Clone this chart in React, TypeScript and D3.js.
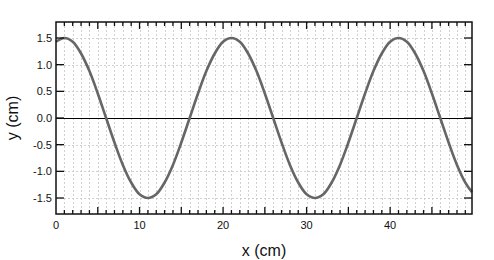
import React from "react";
import * as d3 from "d3";

const xValues = [
  0, 1, 2, 3, 4, 5, 6, 7, 8, 9, 10, 11, 12, 13, 14, 15, 16, 17, 18, 19, 20,
  21, 22, 23, 24, 25, 26, 27, 28, 29, 30, 31, 32, 33, 34, 35, 36, 37, 38, 39, 40,
  41, 42, 43, 44, 45, 46, 47, 48, 49, 49.8,
];
const yValues = [
  1.43, 1.5, 1.43, 1.21, 0.88, 0.46, 0, -0.46, -0.88, -1.21, -1.43,
  -1.5, -1.43, -1.21, -0.88, -0.46, 0, 0.46, 0.88, 1.21, 1.43,
  1.5, 1.43, 1.21, 0.88, 0.46, 0, -0.46, -0.88, -1.21, -1.43,
  -1.5, -1.43, -1.21, -0.88, -0.46, 0, 0.46, 0.88, 1.21, 1.43,
  1.5, 1.43, 1.21, 0.88, 0.46, 0, -0.46, -0.88, -1.21, -1.39,
];
const xTickLabels = [0, 10, 20, 30, 40];
const yTickLabels = [1.5, 1.0, 0.5, 0.0, -0.5, -1.0, -1.5];

const W = 494;
const H = 260;
const L = 56, R = 472, T = 22, B = 214;

export default function App() {
  const x = d3.scaleLinear().domain([0, 49.8]).range([L, R]);
  const y = d3.scaleLinear().domain([-1.8, 1.8]).range([B, T]);
  const pts = xValues.map((v, i) => [v, yValues[i]] as [number, number]);
  const line = d3
    .line<[number, number]>()
    .x((d) => x(d[0]))
    .y((d) => y(d[1]))
    .curve(d3.curveCatmullRom.alpha(0.5));
  const minor = d3.range(1, 50);
  const font = "Liberation Sans, Arial, Helvetica, sans-serif";
  return (
    <svg
      width={W}
      height={H}
      style={{ position: "absolute", left: 0, top: 0 }}
      fontFamily={font}
    >
      <rect width={W} height={H} fill="#fff" />
      <g>
        {minor.map((v) => (
          <line
            key={"gx" + v}
            x1={Math.round(x(v)) + 0.5}
            x2={Math.round(x(v)) + 0.5}
            y1={T}
            y2={B}
            stroke="#d0d0d0"
            strokeWidth={1}
            strokeDasharray="2,2"
          />
        ))}
        {yTickLabels
          .filter((v) => v !== 0)
          .map((v) => (
            <line
              key={"gy" + v}
              x1={L}
              x2={R}
              y1={Math.round(y(v)) + 0.5}
              y2={Math.round(y(v)) + 0.5}
              stroke="#d0d0d0"
              strokeWidth={1}
              strokeDasharray="2,2"
            />
          ))}
      </g>
      <line x1={L} x2={R} y1={y(0) + 0.5} y2={y(0) + 0.5} stroke="#000" strokeWidth={1.2} />
      <path d={line(pts) || ""} fill="none" stroke="#666" strokeWidth={2.6} />
      <g stroke="#111" strokeWidth={1.3}>
        {minor.map((v) => {
          const len = v % 5 === 0 ? 7 : 4;
          return (
            <g key={"tx" + v}>
              <line x1={x(v)} x2={x(v)} y1={B} y2={B - len} />
              <line x1={x(v)} x2={x(v)} y1={T} y2={T + len} />
            </g>
          );
        })}
        {yTickLabels.map((v) => (
          <g key={"ty" + v}>
            <line x1={L} x2={L + 8} y1={y(v)} y2={y(v)} />
            <line x1={R} x2={R - 8} y1={y(v)} y2={y(v)} />
          </g>
        ))}
      </g>
      <rect
        x={L}
        y={T}
        width={R - L}
        height={B - T}
        fill="none"
        stroke="#111"
        strokeWidth={1.5}
      />
      <g fontSize={11} fill="#111">
        {xTickLabels.map((v) => (
          <text key={"lx" + v} x={x(v)} y={B + 15} textAnchor="middle">
            {v}
          </text>
        ))}
        {yTickLabels.map((v) => (
          <text
            key={"ly" + v}
            x={L - 4}
            y={y(v)}
            textAnchor="end"
            dominantBaseline="central"
          >
            {v.toFixed(1)}
          </text>
        ))}
      </g>
      <text x={(L + R) / 2} y={256} textAnchor="middle" fontSize={16} fill="#111">
        x (cm)
      </text>
      <text
        transform={`translate(18, ${(T + B) / 2}) rotate(-90)`}
        textAnchor="middle"
        fontSize={16}
        fill="#111"
      >
        y (cm)
      </text>
    </svg>
  );
}
